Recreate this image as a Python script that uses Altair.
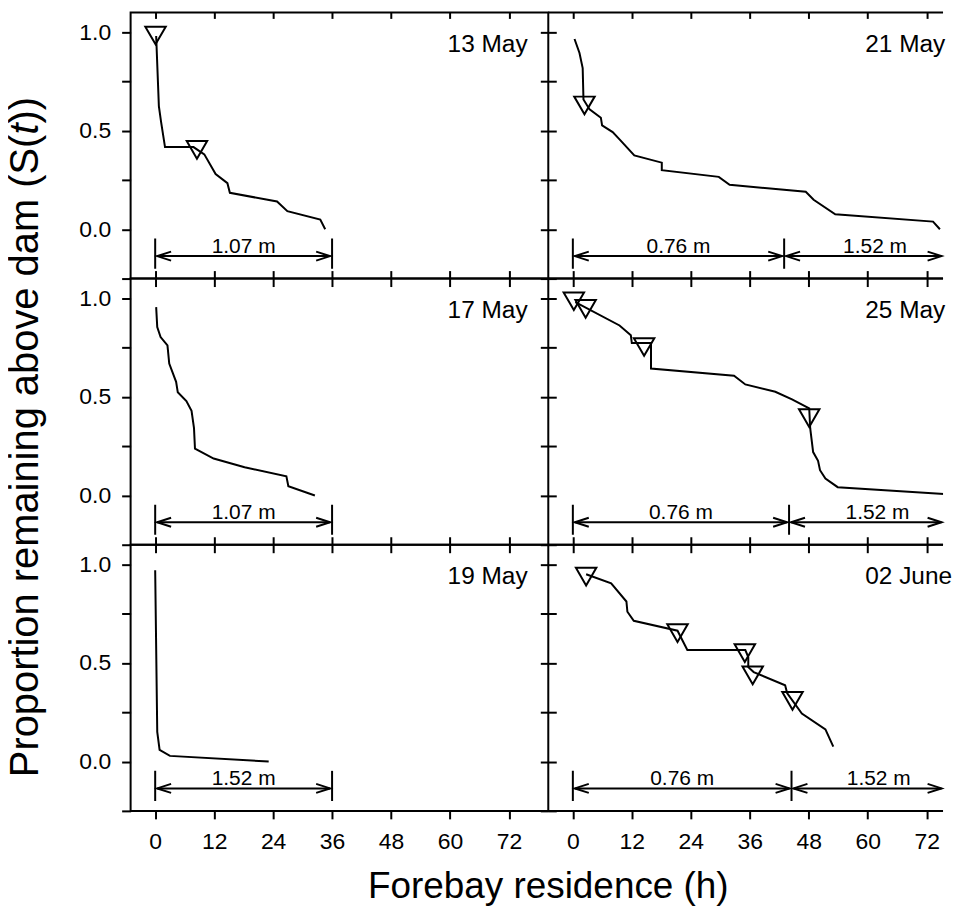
import altair as alt
import pandas as pd

FONT = "Liberation Sans"

# ---------------- data ----------------
panel_dates = ["13 May", "21 May", "17 May", "25 May", "19 May", "02 June"]

may13_h = [0.2, 0.75, 1.2, 2.0, 7.8, 10.0, 12.3, 14.7, 15.2, 24.8, 26.9, 33.6, 34.6]
may13_s = [0.98, 0.625, 0.545, 0.417, 0.417, 0.38, 0.28, 0.234, 0.185, 0.141, 0.092, 0.049, 0.0]

may21_h = [0.34, 1.35, 2.0, 2.16, 3.4, 5.7, 5.95, 8.1, 9.5, 12.5, 18.1, 18.1, 29.7, 31.9,
           47.4, 49.0, 53.4, 73.3, 74.7]
may21_s = [0.965, 0.894, 0.818, 0.658, 0.608, 0.566, 0.527, 0.493, 0.456, 0.375, 0.338, 0.30,
           0.266, 0.226, 0.19, 0.15, 0.076, 0.039, 0.0]

may17_h = [0.2, 0.42, 1.1, 2.5, 2.86, 4.26, 4.6, 6.35, 7.4, 7.9, 8.1, 11.9, 18.2, 26.7, 27.1, 32.5]
may17_s = [0.955, 0.854, 0.803, 0.761, 0.669, 0.576, 0.523, 0.479, 0.429, 0.341, 0.237, 0.187,
           0.143, 0.097, 0.047, 0.0]

may25_h = [0.5, 9.5, 11.8, 12.0, 15.9, 15.9, 32.8, 35.1, 41.2, 44.6, 48.1, 48.3, 48.9, 49.9,
           50.3, 51.4, 53.9, 80.0]
may25_s = [0.98, 0.862, 0.812, 0.773, 0.773, 0.644, 0.607, 0.563, 0.526, 0.487, 0.442, 0.341,
           0.22, 0.176, 0.128, 0.086, 0.042, 0.0]

may19_h = [0.0, 0.42, 0.9, 3.0, 23.1]
may19_s = [0.97, 0.151, 0.059, 0.029, 0.0]

jun02_h = [2.7, 7.8, 10.9, 11.1, 12.4, 21.3, 23.3, 35.1, 35.7, 35.7, 36.8, 43.2, 43.6, 46.6, 51.4, 53.0]
jun02_s = [0.95, 0.904, 0.812, 0.76, 0.714, 0.664, 0.566, 0.566, 0.53, 0.479, 0.454, 0.387,
           0.348, 0.244, 0.163, 0.076]

line_h = [may13_h, may21_h, may17_h, may25_h, may19_h, jun02_h]
line_s = [may13_s, may21_s, may17_s, may25_s, may19_s, jun02_s]

# open triangles
tri_h = [[0.07, 8.5], [2.36], [], [0.2, 2.6, 14.5, 48.1], [], [2.7, 21.3, 35.0, 36.6, 44.7]]
tri_s = [[0.983, 0.403], [0.628], [], [0.985, 0.946, 0.753, 0.392], [], [0.938, 0.652, 0.55, 0.437, 0.308]]

# depth brackets (h boundaries) and their labels
bracket_edges = [[0, 36], [0, 43, 80], [0, 36], [0, 44, 80], [0, 36], [0, 44.5, 80]]
bracket_labels = [["1.07 m"], ["0.76 m", "1.52 m"], ["1.07 m"], ["0.76 m", "1.52 m"],
                  ["1.52 m"], ["0.76 m", "1.52 m"]]

x_ticks = [0, 12, 24, 36, 48, 60, 72]
y_ticks = [-0.25, 0, 0.25, 0.5, 0.75, 1.0]

y_title_parts = ["Proportion remaining above dam (S(", "t", "))"]
x_title = "Forebay residence (h)"

# ---------------- layout constants ----------------
PANEL_W = [419, 396]
PANEL_H = 267
X_MIN = -5.0
PX_PER_H = 419 / 85.0
X_MAX = [80.0, X_MIN + PANEL_W[1] / PX_PER_H]
Y_DOM = [-0.25, 1.1]
BAR_TOP, BAR_BOT, ARROW_Y, LABEL_Y = -0.047, -0.2, -0.136, -0.118

Y_LABEL_EXPR = ("(datum.value == 0 || datum.value == 0.5 || datum.value == 1) "
                "? format(datum.value, '.1f') : ''")

blank = alt.Data(values=[{"k": 0}])

# y title (rotated, italic t) placed relative to the middle-left panel
YT_FS = 40
W_PREFIX = 16.117 * YT_FS
W_T = 0.278 * YT_FS
W_ALL = 17.061 * YT_FS
YT_X = -93
YT_START = 159 + W_ALL / 2
# x title placed relative to the bottom-left panel
XT_X = 419
XT_Y = 354


def title_layers(idx):
    out = []
    if idx == 2:
        common = dict(angle=270, align="left", baseline="alphabetic", font=FONT,
                      fontSize=YT_FS, color="black")
        out.append(alt.Chart(blank).mark_text(text=y_title_parts[0], **common).encode(
            x=alt.value(YT_X), y=alt.value(YT_START)))
        out.append(alt.Chart(blank).mark_text(text=y_title_parts[1], fontStyle="italic", **common).encode(
            x=alt.value(YT_X), y=alt.value(YT_START - W_PREFIX)))
        out.append(alt.Chart(blank).mark_text(text=y_title_parts[2], **common).encode(
            x=alt.value(YT_X), y=alt.value(YT_START - W_PREFIX - W_T)))
    if idx == 4:
        out.append(alt.Chart(blank).mark_text(text=x_title, font=FONT, fontSize=37, color="black",
                                              align="center", baseline="alphabetic").encode(
            x=alt.value(XT_X), y=alt.value(XT_Y)))
    return out


def panel(idx):
    row, col = divmod(idx, 2)
    xmax = X_MAX[col]
    xs = alt.Scale(domain=[X_MIN, xmax], nice=False, zero=False)
    ys = alt.Scale(domain=Y_DOM, nice=False, zero=False)

    df = pd.DataFrame({"h": line_h[idx], "s": line_s[idx]})
    df["i"] = range(len(df))

    x_bottom = alt.Axis(orient="bottom", values=x_ticks, tickSize=8, labels=(row == 2),
                        labelPadding=12, title=None, domain=False, grid=False)
    if col == 0:
        y_left = alt.Axis(orient="left", values=y_ticks, tickSize=9, labelExpr=Y_LABEL_EXPR,
                          labelPadding=11, title=None, domain=False, grid=False)
    else:
        y_left = alt.Axis(orient="left", values=y_ticks, tickSize=8, labels=False,
                          title=None, domain=False, grid=False)

    main = alt.Chart(df).mark_line(color="black", strokeWidth=2, clip=True).encode(
        x=alt.X("h:Q", scale=xs, axis=x_bottom),
        y=alt.Y("s:Q", scale=ys, axis=y_left),
        order="i:Q",
    )

    if row == 0:
        x_top = alt.Axis(orient="top", values=x_ticks, tickSize=6, offset=-6, labels=False,
                         title=None, domain=False, grid=False)
    else:
        x_top = alt.Axis(orient="top", values=x_ticks, tickSize=8, labels=False,
                         title=None, domain=False, grid=False)
    if col == 0:
        y_enc = alt.Y("s:Q", scale=ys, axis=alt.Axis(orient="right", values=y_ticks, tickSize=8,
                                                      labels=False, title=None, domain=False, grid=False))
    else:
        y_enc = alt.Y("s:Q", scale=ys, axis=None)
    ghost = alt.Chart(df).mark_line(opacity=0, clip=True).encode(
        x=alt.X("h:Q", scale=xs, axis=x_top), y=y_enc, order="i:Q")

    layers = [main, ghost]

    # the right-hand panels run on past the window: no right frame, only top/bottom edges
    if col == 1:
        fdf = pd.DataFrame({"x1": [X_MIN, X_MIN], "x2": [xmax, xmax], "y": [Y_DOM[0], Y_DOM[1]]})
        layers.append(alt.Chart(fdf).mark_rule(color="black", strokeWidth=2).encode(
            x=alt.X("x1:Q", scale=xs, axis=None), x2="x2:Q",
            y=alt.Y("y:Q", scale=ys, axis=None)))

    if tri_h[idx]:
        tdf = pd.DataFrame({"h": tri_h[idx], "s": tri_s[idx]})
        layers.append(alt.Chart(tdf).mark_point(shape="triangle-down", size=420, filled=False,
                                                color="black", strokeWidth=2, opacity=1).encode(
            x=alt.X("h:Q", scale=xs, axis=None), y=alt.Y("s:Q", scale=ys, axis=None)))

    edges = bracket_edges[idx]
    bdf = pd.DataFrame({"h": [e for e in edges if e <= xmax], "top": BAR_TOP, "bot": BAR_BOT})
    layers.append(alt.Chart(bdf).mark_rule(color="black", strokeWidth=2, clip=True).encode(
        x=alt.X("h:Q", scale=xs, axis=None),
        y=alt.Y("top:Q", scale=ys, axis=None), y2="bot:Q"))

    segs = []
    for k, lab in enumerate(bracket_labels[idx]):
        a, b = edges[k], edges[k + 1]
        segs.append({"x1": a + 0.4, "x2": min(b - 0.4, xmax - 0.3), "mid": (a + b) / 2,
                     "ay": ARROW_Y, "ly": LABEL_Y, "lab": lab})
    sdf = pd.DataFrame(segs)
    layers.append(alt.Chart(sdf).mark_rule(color="black", strokeWidth=2).encode(
        x=alt.X("x1:Q", scale=xs, axis=None), x2="x2:Q",
        y=alt.Y("ay:Q", scale=ys, axis=None)))
    layers.append(alt.Chart(sdf).mark_point(shape="M1.4,-0.45L0,0L1.4,0.45", size=400, filled=False,
                                            color="black", strokeWidth=2, opacity=1).encode(
        x=alt.X("x1:Q", scale=xs, axis=None), y=alt.Y("ay:Q", scale=ys, axis=None)))
    layers.append(alt.Chart(sdf).mark_point(shape="M-1.4,-0.45L0,0L-1.4,0.45", size=400, filled=False,
                                            color="black", strokeWidth=2, opacity=1).encode(
        x=alt.X("x2:Q", scale=xs, axis=None), y=alt.Y("ay:Q", scale=ys, axis=None)))
    layers.append(alt.Chart(sdf).mark_text(font=FONT, fontSize=21, color="black", align="center",
                                           baseline="alphabetic").encode(
        x=alt.X("mid:Q", scale=xs, axis=None), y=alt.Y("ly:Q", scale=ys, axis=None), text="lab:N"))

    ddf = pd.DataFrame({"h": [59.5], "s": [0.90], "d": [panel_dates[idx]]})
    layers.append(alt.Chart(ddf).mark_text(font=FONT, fontSize=24.5, color="black", align="left",
                                           baseline="alphabetic").encode(
        x=alt.X("h:Q", scale=xs, axis=None), y=alt.Y("s:Q", scale=ys, axis=None), text="d:N"))

    layers.extend(title_layers(idx))

    props = dict(width=PANEL_W[col], height=PANEL_H)
    if col == 1:
        props["view"] = alt.ViewBackground(strokeOpacity=0)
    return alt.layer(*layers).resolve_axis(x="independent", y="independent").properties(**props)


chart = alt.concat(
    *[panel(i) for i in range(6)], columns=2, spacing=0, bounds="flush",
).properties(
    padding={"top": 1, "left": -4, "right": 0, "bottom": 0},
).configure_view(
    stroke="black", strokeWidth=2,
).configure_axis(
    labelFont=FONT, labelFontSize=23, labelColor="black", tickColor="black", tickWidth=2,
    minExtent=0,
)

chart.save("out.html", embed_options={"renderer": "svg", "actions": False})
